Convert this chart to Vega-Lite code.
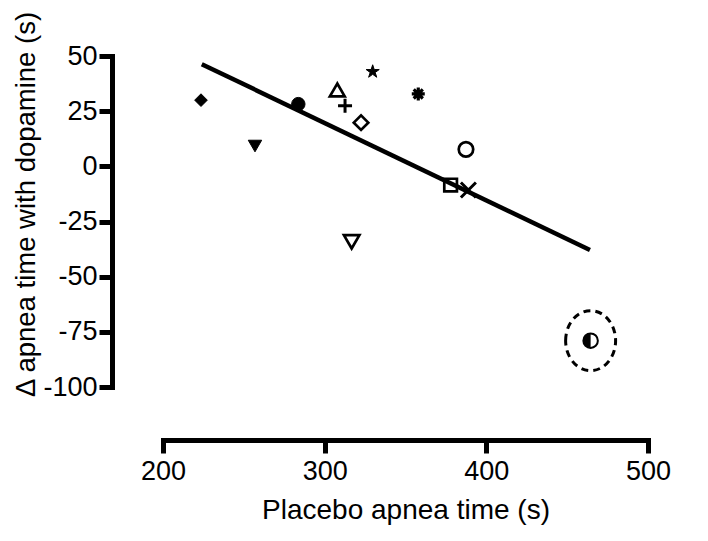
{
  "$schema": "https://vega.github.io/schema/vega-lite/v6.json",
  "width": 485,
  "height": 331,
  "autosize": {"type": "none"},
  "padding": {"left": 163, "top": 56, "right": 60, "bottom": 154},
  "background": "white",
  "config": {
    "view": {"stroke": null},
    "font": "Liberation Sans",
    "axis": {
      "labelFont": "Liberation Sans",
      "titleFont": "Liberation Sans",
      "labelFontSize": 27,
      "titleFontSize": 28,
      "titleFontWeight": "normal",
      "labelColor": "black",
      "titleColor": "black",
      "domainColor": "black",
      "tickColor": "black",
      "grid": false,
      "domainWidth": 5,
      "tickWidth": 5,
      "tickSize": 13,
      "domainCap": "square",
      "labelFlush": false,
      "labelOverlap": false
    }
  },
  "datasets": {
    "subjects": [
      {"subject": "1", "placebo": 223.5, "delta": 30.0},
      {"subject": "2", "placebo": 283.7, "delta": 28.2},
      {"subject": "3", "placebo": 256.9, "delta": 9.2},
      {"subject": "4", "placebo": 307.8, "delta": 34.6},
      {"subject": "5", "placebo": 312.6, "delta": 27.5},
      {"subject": "6", "placebo": 329.7, "delta": 42.9},
      {"subject": "7", "placebo": 357.9, "delta": 32.8},
      {"subject": "8", "placebo": 322.5, "delta": 19.8},
      {"subject": "9", "placebo": 387.4, "delta": 7.7},
      {"subject": "10", "placebo": 377.9, "delta": -8.5},
      {"subject": "11", "placebo": 388.9, "delta": -10.7},
      {"subject": "12", "placebo": 316.7, "delta": -34.2},
      {"subject": "13", "placebo": 464.5, "delta": -79.0}
    ],
    "fit": [
      {"placebo": 224.0, "delta": 46.3},
      {"placebo": 464.1, "delta": -37.9}
    ]
  },
  "encoding": {
    "x": {
      "field": "placebo",
      "type": "quantitative",
      "scale": {"domain": [200, 500], "nice": false, "zero": false},
      "axis": {
        "title": "Placebo apnea time (s)",
        "values": [200, 300, 400, 500],
        "offset": 53,
        "labelPadding": 5,
        "titlePadding": 12
      }
    },
    "y": {
      "field": "delta",
      "type": "quantitative",
      "scale": {"domain": [-100, 50], "nice": false, "zero": false},
      "axis": {
        "title": "Δ apnea time with dopamine (s)",
        "values": [-100, -75, -50, -25, 0, 25, 50],
        "offset": 51,
        "labelPadding": 2,
        "titlePadding": 2,
        "titleFontSize": 27.5,
        "titleY": 148,
        "labelExpr": "replace(datum.label, '−', '-')"
      }
    }
  },
  "layer": [
    {
      "mark": {"type": "rule", "strokeDash": [3, 2], "strokeWidth": 1.2, "color": "black"},
      "encoding": {
        "x": {"datum": 170},
        "x2": {"datum": 508},
        "y": {"datum": 0}
      }
    },
    {
      "data": {"name": "fit"},
      "mark": {"type": "line", "color": "black", "strokeWidth": 4.5}
    },
    {
      "data": {"name": "subjects"},
      "mark": {"type": "point", "filled": false, "opacity": 1},
      "encoding": {
        "shape": {
          "field": "subject",
          "type": "nominal",
          "legend": null,
          "scale": {
            "domain": ["1", "2", "3", "4", "5", "6", "7", "8", "9", "10", "11", "12", "13"],
            "range": [
              "diamond",
              "circle",
              "triangle-down",
              "triangle-up",
              "M -1 0 L 1 0 M 0 -1 L 0 1",
              "M 0 -1 L 0.225 -0.309 L 0.951 -0.309 L 0.363 0.118 L 0.588 0.809 L 0 0.382 L -0.588 0.809 L -0.363 0.118 L -0.951 -0.309 L -0.225 -0.309 Z",
              "M -1 0 L 1 0 M 0 -1 L 0 1 M -0.7 -0.7 L 0.7 0.7 M -0.7 0.7 L 0.7 -0.7",
              "diamond",
              "circle",
              "square",
              "M -1 -1 L 1 1 M -1 1 L 1 -1",
              "triangle-down",
              "circle"
            ]
          }
        },
        "fill": {
          "field": "subject",
          "type": "nominal",
          "legend": null,
          "scale": {
            "domain": ["1", "2", "3", "4", "5", "6", "7", "8", "9", "10", "11", "12", "13"],
            "range": ["black", "black", "black", "transparent", "transparent", "black", "transparent", "transparent", "transparent", "transparent", "transparent", "transparent", "white"]
          }
        },
        "size": {
          "field": "subject",
          "type": "nominal",
          "legend": null,
          "scale": {
            "type": "ordinal",
            "domain": ["1", "2", "3", "4", "5", "6", "7", "8", "9", "10", "11", "12", "13"],
            "range": [160, 180, 180, 220, 196, 190, 169, 210, 210, 160, 225, 240, 210]
          }
        },
        "strokeWidth": {
          "field": "subject",
          "type": "nominal",
          "legend": null,
          "scale": {
            "type": "ordinal",
            "domain": ["1", "2", "3", "4", "5", "6", "7", "8", "9", "10", "11", "12", "13"],
            "range": [1, 1, 1, 2.7, 3, 1, 3.2, 2.7, 2.7, 2.7, 3, 2.7, 2]
          }
        },
        "stroke": {"value": "black"}
      }
    },
    {
      "data": {"name": "subjects"},
      "transform": [{"filter": "datum.subject == '13'"}],
      "mark": {"type": "point", "shape": "M 0 -1 A 1 1 0 0 0 0 1 Z", "filled": true, "color": "black", "size": 210, "opacity": 1, "strokeWidth": 0}
    },
    {
      "data": {"name": "subjects"},
      "transform": [{"filter": "datum.subject == '13'"}],
      "mark": {"type": "point", "shape": "M -0.833 0 A 0.833 1 0 1 1 0.833 0 A 0.833 1 0 1 1 -0.833 0 Z", "filled": false, "color": "black", "size": 3600, "opacity": 1, "strokeWidth": 3, "strokeDash": [7, 5]}
    }
  ]
}
